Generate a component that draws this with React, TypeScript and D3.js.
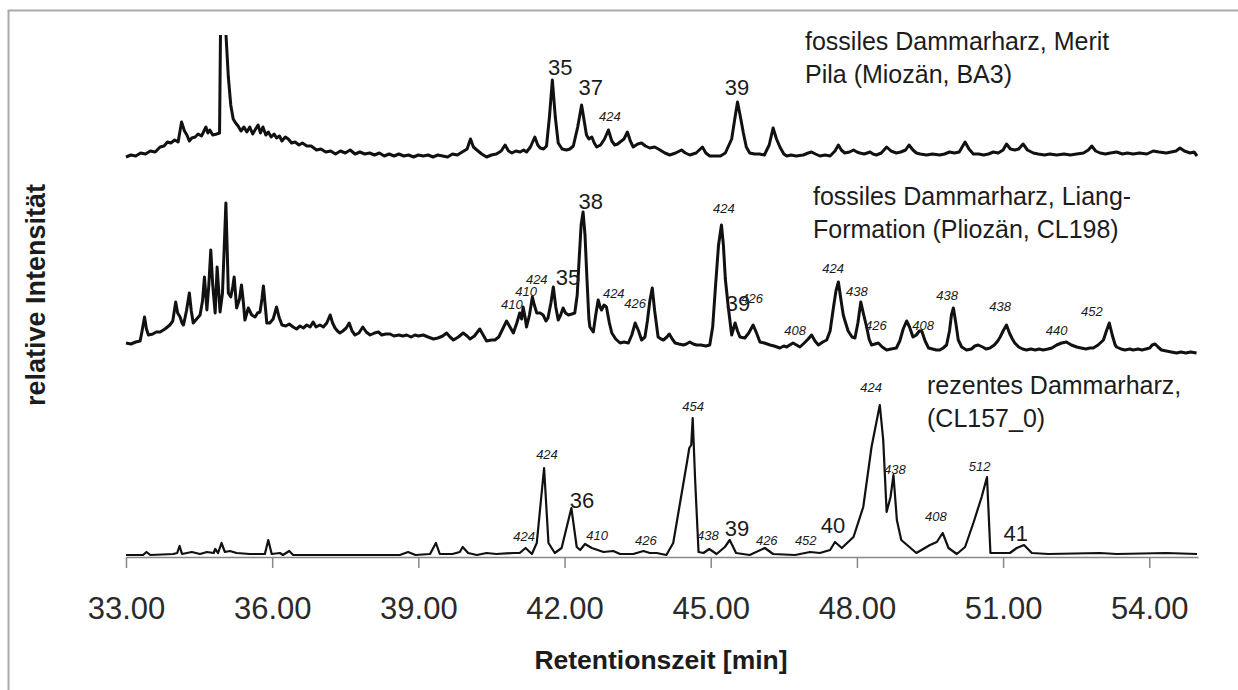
import React, { useEffect, useRef } from 'react';
import * as d3 from 'd3';

type Pt = [number, number];
type Lbl = [number, number, string, boolean];

const xTicks = [33, 36, 39, 42, 45, 48, 51, 54];

// fossiles Dammarharz, Merit Pila (Miozän, BA3) - [Retentionszeit, Intensität]
const meritPila: Pt[] = [
  [33.0, 0], [33.1, 1], [33.2, 0.5], [33.3, 2], [33.4, 1.5], [33.5, 3], [33.6, 2.5], [33.7, 5], [33.78, 5.5],
  [33.85, 7.5], [33.92, 7], [34.0, 8.5], [34.07, 7.5], [34.14, 17.5], [34.2, 13], [34.25, 11], [34.3, 8],
  [34.35, 9.5], [34.42, 10], [34.48, 11.5], [34.55, 10.5], [34.6, 13], [34.64, 15], [34.68, 12], [34.72, 13.5],
  [34.78, 11], [34.86, 11.5], [34.92, 12], [34.95, 90], [35.0, 200], [35.05, 62], [35.1, 40], [35.15, 26],
  [35.2, 19], [35.25, 17], [35.3, 15.5], [35.36, 13], [35.42, 15], [35.48, 12.5], [35.54, 15], [35.6, 11.5],
  [35.66, 14], [35.71, 16], [35.76, 12], [35.81, 15], [35.87, 11], [35.92, 12.5], [35.98, 10], [36.04, 11.5],
  [36.09, 9.5], [36.15, 10.5], [36.2, 8], [36.27, 10], [36.33, 9], [36.4, 7], [36.47, 7.5], [36.55, 6],
  [36.62, 7], [36.71, 5.5], [36.8, 5.5], [36.91, 3.5], [37.0, 4], [37.1, 2.5], [37.2, 3], [37.3, 1.5],
  [37.4, 3], [37.5, 2], [37.6, 3.5], [37.7, 1.5], [37.8, 2.5], [37.9, 1.5], [38.0, 2], [38.1, 1], [38.2, 2],
  [38.3, 0.5], [38.4, 1.5], [38.5, 0.5], [38.6, 1.5], [38.7, 0.5], [38.8, 1], [38.9, 0], [39.0, 1], [39.1, 0.5],
  [39.2, 1], [39.3, 0], [39.4, 1], [39.5, 0.5], [39.6, 0], [39.7, 1.5], [39.8, 1], [39.9, 2.5], [40.0, 4],
  [40.07, 9], [40.13, 5], [40.2, 3.5], [40.3, 1.5], [40.4, 0], [40.5, 1], [40.6, 1.5], [40.7, 3], [40.78, 6],
  [40.85, 3], [40.92, 2], [41.0, 3], [41.09, 2.5], [41.16, 3.5], [41.22, 2.5], [41.3, 5], [41.39, 10],
  [41.45, 6], [41.5, 4.5], [41.57, 4], [41.63, 5.5], [41.69, 20], [41.75, 38.5], [41.81, 20], [41.87, 7],
  [41.95, 4], [42.04, 3.5], [42.11, 4], [42.18, 5.5], [42.27, 15], [42.35, 26], [42.41, 17], [42.45, 11],
  [42.5, 9], [42.56, 10], [42.61, 7], [42.66, 5], [42.74, 6], [42.82, 9], [42.9, 13.5], [42.97, 8],
  [43.03, 6], [43.09, 6.5], [43.14, 7.5], [43.22, 9], [43.29, 12.5], [43.35, 8], [43.41, 5], [43.5, 6.5],
  [43.58, 7], [43.66, 5.5], [43.75, 4.5], [43.85, 5], [43.96, 3.5], [44.06, 2], [44.16, 1], [44.28, 2],
  [44.4, 3.5], [44.48, 2], [44.57, 1], [44.7, 2], [44.83, 5], [44.9, 2], [44.98, 0.5], [45.1, 0.5],
  [45.2, 0.5], [45.3, 2], [45.43, 9], [45.5, 20], [45.55, 27.5], [45.61, 20], [45.67, 12], [45.73, 5],
  [45.8, 2], [45.9, 1.5], [46.0, 1.5], [46.1, 1], [46.2, 6], [46.28, 14.5], [46.35, 9], [46.42, 5],
  [46.5, 1.5], [46.56, 0.5], [46.65, 1], [46.75, 0.5], [46.9, 1], [47.0, 2], [47.07, 2.5], [47.15, 1.5],
  [47.24, 0.5], [47.35, 1], [47.45, 0.5], [47.55, 3], [47.62, 6], [47.68, 3.5], [47.75, 2], [47.85, 2.5],
  [47.93, 3.5], [48.0, 2.5], [48.06, 2], [48.15, 1.5], [48.27, 2.5], [48.33, 1.5], [48.4, 1], [48.5, 2],
  [48.61, 5], [48.7, 3], [48.81, 2], [48.9, 2.5], [49.0, 3.5], [49.07, 6], [49.15, 3.5], [49.22, 2],
  [49.3, 1.5], [49.43, 1], [49.55, 1.5], [49.7, 1], [49.8, 1.5], [49.9, 2.5], [50.0, 2], [50.1, 2.5],
  [50.22, 7.5], [50.3, 4], [50.39, 1.5], [50.5, 1.5], [50.6, 1], [50.7, 1.5], [50.8, 2.5], [50.9, 2],
  [51.0, 3.5], [51.07, 6.5], [51.15, 4], [51.24, 3.5], [51.32, 4], [51.41, 6.5], [51.5, 3.5], [51.62, 2],
  [51.72, 1.5], [51.85, 1], [51.96, 1.5], [52.1, 1], [52.25, 1.5], [52.38, 1], [52.51, 1.5], [52.65, 2],
  [52.75, 3.5], [52.82, 5.5], [52.9, 3], [52.99, 2], [53.1, 1.5], [53.2, 2], [53.33, 2.5], [53.45, 1.5],
  [53.55, 2], [53.67, 1.5], [53.8, 2], [53.95, 1.5], [54.08, 3], [54.2, 2.5], [54.35, 2], [54.45, 2.5],
  [54.55, 3], [54.63, 4.5], [54.72, 3], [54.84, 2], [54.92, 2.5], [54.98, 0.5],
];

// fossiles Dammarharz, Liang-Formation (Pliozän, CL198)
const liang: Pt[] = [
  [33.0, 6], [33.1, 5.5], [33.2, 6.5], [33.29, 7], [33.33, 12], [33.38, 19], [33.42, 13], [33.46, 10],
  [33.55, 10.5], [33.62, 11.5], [33.7, 11.5], [33.8, 13], [33.9, 15], [33.96, 17], [34.02, 26.5], [34.06, 21],
  [34.11, 19], [34.15, 16], [34.18, 15], [34.24, 22], [34.3, 31], [34.34, 22], [34.38, 16], [34.45, 18],
  [34.52, 20], [34.57, 27], [34.61, 39], [34.66, 22.5], [34.7, 35], [34.74, 52.5], [34.78, 35], [34.83, 21],
  [34.87, 44], [34.9, 33], [34.93, 21.5], [34.98, 31], [35.01, 50], [35.05, 76], [35.08, 50], [35.1, 31],
  [35.15, 29], [35.19, 34], [35.22, 39], [35.27, 23.5], [35.33, 28], [35.37, 35], [35.41, 26], [35.44, 17.5],
  [35.51, 23.5], [35.58, 20], [35.65, 19], [35.7, 21], [35.75, 21.5], [35.79, 28], [35.82, 34.5], [35.86, 24],
  [35.89, 16], [35.95, 16], [36.02, 18], [36.09, 24], [36.14, 19], [36.2, 15], [36.28, 14.5], [36.35, 15.5],
  [36.43, 14], [36.5, 13], [36.57, 14.5], [36.64, 13.5], [36.71, 15], [36.78, 14], [36.84, 16.5], [36.9, 14],
  [36.98, 15], [37.05, 14], [37.12, 16], [37.19, 20], [37.24, 16], [37.29, 13.5], [37.34, 12], [37.39, 11],
  [37.45, 12], [37.52, 13.5], [37.58, 16], [37.64, 12], [37.7, 10], [37.78, 11], [37.86, 14], [37.93, 11.5],
  [38.01, 10], [38.1, 11], [38.18, 11.5], [38.25, 10], [38.33, 10.5], [38.42, 10.5], [38.5, 9.5], [38.6, 10],
  [38.68, 9.5], [38.76, 10], [38.85, 9], [38.93, 10], [39.0, 9.5], [39.1, 10], [39.2, 9], [39.31, 8],
  [39.4, 8.5], [39.5, 9.5], [39.58, 11], [39.65, 9], [39.72, 7.5], [39.82, 9], [39.92, 11], [40.0, 9.5],
  [40.06, 8], [40.15, 9.5], [40.26, 13], [40.33, 10], [40.4, 7], [40.5, 7.5], [40.57, 7.5], [40.65, 9],
  [40.73, 13], [40.81, 17], [40.88, 14], [40.95, 11], [41.02, 16], [41.08, 21], [41.12, 18], [41.15, 24],
  [41.19, 19], [41.22, 14], [41.28, 20], [41.34, 29], [41.38, 25], [41.43, 21], [41.5, 21], [41.56, 20],
  [41.62, 17], [41.66, 18.5], [41.72, 26], [41.77, 34], [41.82, 24], [41.87, 17.5], [41.92, 20], [41.97, 23.5],
  [42.02, 21], [42.08, 20], [42.15, 20.5], [42.21, 21], [42.26, 30], [42.3, 48], [42.34, 65], [42.38, 71.5],
  [42.42, 60], [42.46, 38], [42.5, 18], [42.52, 14], [42.59, 11.5], [42.64, 20], [42.69, 27.5], [42.73, 24],
  [42.76, 22.5], [42.81, 25], [42.86, 24], [42.92, 16], [42.97, 11], [43.05, 8], [43.14, 6], [43.22, 6.5],
  [43.31, 6], [43.38, 10], [43.45, 16], [43.52, 12], [43.58, 7.5], [43.65, 9], [43.7, 17], [43.75, 27],
  [43.8, 33.5], [43.85, 22], [43.92, 9], [43.98, 8], [44.03, 7.5], [44.1, 9], [44.15, 10.5], [44.21, 8],
  [44.27, 6], [44.35, 5.5], [44.44, 5], [44.5, 5.5], [44.57, 6.5], [44.64, 5.5], [44.71, 5], [44.8, 5],
  [44.9, 4.5], [44.98, 5], [45.04, 14], [45.1, 35], [45.16, 55], [45.22, 65], [45.26, 55], [45.3, 38],
  [45.36, 24], [45.43, 10], [45.5, 16], [45.55, 12], [45.6, 9], [45.7, 8.5], [45.78, 11], [45.87, 15],
  [45.94, 11], [46.01, 6.5], [46.1, 6], [46.22, 5], [46.3, 4.5], [46.42, 3.5], [46.5, 4.5], [46.56, 4],
  [46.62, 5], [46.69, 6], [46.76, 5], [46.83, 4], [46.92, 6], [47.0, 8], [47.07, 10], [47.14, 7],
  [47.21, 5], [47.3, 6.5], [47.38, 7.5], [47.45, 12], [47.52, 24], [47.57, 32], [47.62, 36.5], [47.67, 28],
  [47.72, 20], [47.75, 17.5], [47.82, 12], [47.9, 9], [47.96, 8.5], [48.02, 16], [48.08, 26.5], [48.14, 20],
  [48.2, 14], [48.25, 8], [48.3, 5], [48.37, 5.5], [48.44, 6], [48.52, 4], [48.61, 2.5], [48.7, 3],
  [48.81, 3.5], [48.88, 7], [48.95, 13], [49.02, 17], [49.08, 14], [49.15, 9], [49.22, 10], [49.28, 12],
  [49.33, 12], [49.4, 7], [49.47, 3.5], [49.55, 3], [49.63, 2.5], [49.7, 2.5], [49.77, 3.5], [49.84, 5],
  [49.9, 12], [49.94, 20], [49.98, 23.5], [50.03, 16], [50.08, 7.5], [50.15, 4], [50.25, 2.5], [50.35, 3],
  [50.42, 4.5], [50.49, 5], [50.58, 4], [50.65, 3], [50.73, 3.5], [50.82, 5], [50.89, 7], [50.94, 9],
  [51.0, 12], [51.07, 15], [51.13, 11], [51.19, 8], [51.24, 6], [51.32, 4], [51.4, 3], [51.48, 2.5],
  [51.57, 3], [51.66, 2.5], [51.74, 3], [51.82, 2.5], [51.92, 3], [52.0, 3.5], [52.1, 5], [52.2, 6],
  [52.3, 6.5], [52.4, 5], [52.51, 4], [52.6, 3.5], [52.7, 3], [52.78, 3.5], [52.85, 3.5], [52.95, 5],
  [53.06, 7.5], [53.12, 12], [53.18, 16], [53.24, 10], [53.3, 5], [53.33, 4], [53.42, 3], [53.5, 2.5],
  [53.6, 3], [53.67, 2.5], [53.77, 3], [53.85, 2.5], [53.93, 3], [54.01, 3.5], [54.06, 5], [54.12, 5.5],
  [54.18, 4], [54.25, 2.5], [54.35, 2], [54.45, 1.5], [54.56, 1], [54.65, 1.5], [54.75, 1], [54.85, 1.5],
  [54.97, 1],
];

// rezentes Dammarharz (CL157_0)
const rezent: Pt[] = [
  [33.0, 0], [33.35, 0], [33.42, 1.5], [33.5, 0], [33.97, 0.5], [34.05, 1], [34.1, 4.5], [34.15, 0.5],
  [34.35, 1.5], [34.52, 0.5], [34.66, 1.5], [34.8, 1], [34.83, 3], [34.89, 1], [34.96, 6], [35.03, 1.5],
  [35.13, 2], [35.27, 1], [35.54, 0.5], [35.85, 0.5], [35.92, 7.5], [35.99, 0.5], [36.16, 1], [36.22, 0],
  [36.35, 2], [36.43, 0], [38.62, 0], [38.79, 1.5], [38.94, 0], [39.24, 0.5], [39.36, 6], [39.44, 0.5],
  [39.7, 0.5], [39.85, 1.5], [39.91, 4], [40.02, 1], [40.2, 0], [40.4, 1], [40.6, 0.5], [40.95, 1],
  [41.08, 1], [41.2, 3.5], [41.33, 0.5], [41.43, 6], [41.58, 43.5], [41.67, 6], [41.8, 1], [41.94, 3.5],
  [42.14, 23.5], [42.25, 4], [42.32, 2.5], [42.42, 5.5], [42.56, 3.5], [42.8, 1.5], [43.0, 2], [43.14, 0.5],
  [43.41, 0.5], [43.62, 2], [43.75, 1], [43.89, 1], [44.09, 0], [44.23, 6], [44.37, 26], [44.51, 46],
  [44.56, 53.5], [44.6, 55], [44.63, 68.5], [44.68, 37.5], [44.75, 1.5], [44.85, 1], [44.97, 3], [45.12, 0.5],
  [45.29, 4], [45.39, 7.5], [45.52, 1], [45.8, 0], [46.11, 3.5], [46.28, 0.5], [46.73, 0], [47.04, 1.5],
  [47.24, 1], [47.45, 2.5], [47.55, 6.5], [47.69, 3.5], [47.93, 9], [48.13, 24], [48.3, 54], [48.47, 75],
  [48.54, 57.5], [48.61, 21.5], [48.69, 29], [48.75, 40], [48.82, 17.5], [48.91, 7.5], [49.22, 1], [49.5, 5],
  [49.64, 6.5], [49.76, 11], [49.88, 3.5], [50.05, 0.5], [50.22, 4], [50.39, 16], [50.56, 29], [50.67, 39],
  [50.74, 1], [51.14, 1], [51.28, 3.5], [51.43, 5], [51.59, 1], [51.93, 0.5], [52.99, 1], [53.33, 0.5],
  [54.35, 1], [54.98, 0.5],
];

// peak labels: [time, intensity above trace, text, compound number?]
const meritLabels: Lbl[] = [
  [41.91, 41, '35', true], [42.54, 31, '37', true], [42.93, 18, '424', false], [45.54, 31, '39', true],
];
const liangLabels: Lbl[] = [
  [40.92, 23, '410', false], [41.21, 29.5, '410', false], [41.43, 35.5, '424', false], [42.07, 35, '35', true],
  [42.54, 73, '38', true], [43.01, 28.5, '424', false], [43.45, 23.5, '426', false], [45.27, 71, '424', false],
  [45.56, 22, '39', true], [45.85, 26, '426', false], [46.73, 10, '408', false], [47.51, 41, '424', false],
  [48.0, 29.5, '438', false], [48.39, 12.5, '426', false], [49.36, 12.5, '408', false], [49.85, 27.5, '438', false],
  [50.94, 22, '438', false], [52.1, 10, '440', false], [52.82, 19.5, '452', false],
];
const rezentLabels: Lbl[] = [
  [41.17, 7, '424', false], [41.64, 48, '424', false], [42.36, 23.5, '36', true], [42.67, 7.5, '410', false],
  [43.67, 5, '426', false], [44.64, 72, '454', false], [44.94, 7.5, '438', false], [45.54, 9.5, '39', true],
  [46.15, 5, '426', false], [46.95, 5, '452', false], [47.51, 11, '40', true], [48.29, 81.5, '424', false],
  [48.78, 40.5, '438', false], [49.62, 17, '408', false], [50.52, 42, '512', false], [51.26, 7, '41', true],
];

const traceNames = [
  ['fossiles Dammarharz, Merit', 'Pila (Miozän, BA3)'],
  ['fossiles Dammarharz, Liang-', 'Formation (Pliozän, CL198)'],
  ['rezentes Dammarharz,', '(CL157_0)'],
];
const traceOffsets = [200, 101, 1];

const App = () => {
  const svgRef = useRef<SVGSVGElement>(null);

  useEffect(() => {
    const svg = d3.select(svgRef.current);
    svg.selectAll('*').remove();

    const width = 1238;
    const height = 690;
    const font = '"Liberation Sans", Arial, Helvetica, sans-serif';
    const ink = '#1c1c1c';

    const x = d3.scaleLinear().domain([33, 55]).range([126, 1198]);
    const y = d3.scaleLinear().domain([0, 261]).range([557, 35]);

    svg.append('rect').attr('width', width).attr('height', height).attr('fill', '#fff');

    // scanned frame (top + left edge)
    svg.append('path')
      .attr('d', 'M8.5,690V10.5H1238')
      .attr('fill', 'none')
      .attr('stroke', '#aaa')
      .attr('stroke-width', 2);

    svg.append('clipPath').attr('id', 'plotClip')
      .append('rect').attr('x', 0).attr('y', 35).attr('width', width).attr('height', height - 35);

    // x axis
    const axis = svg.append('g')
      .attr('transform', 'translate(0,557)')
      .call(
        d3.axisBottom(x)
          .tickValues(xTicks)
          .tickFormat(d3.format('.2f'))
          .tickSize(11)
          .tickSizeOuter(0)
          .tickPadding(29)
      );
    axis.select('.domain').attr('stroke', '#888').attr('stroke-width', 1.5);
    axis.selectAll('.tick line').attr('stroke', '#888').attr('stroke-width', 1.5);
    axis.selectAll('.tick text')
      .attr('fill', '#2a2a2a')
      .attr('font-family', font)
      .attr('font-size', 31);

    const traces = [meritPila, liang, rezent];
    const labels = [meritLabels, liangLabels, rezentLabels];
    const titlePos = [[805, 50], [813, 205], [927, 394]];

    traces.forEach((data, i) => {
      const off = traceOffsets[i];
      const line = d3.line<Pt>()
        .x((d) => x(d[0]))
        .y((d) => y(d[1] + off));

      svg.append('path')
        .datum(data)
        .attr('d', line)
        .attr('fill', 'none')
        .attr('stroke', '#111')
        .attr('stroke-width', i === 2 ? 2.2 : 3)
        .attr('stroke-linejoin', 'round')
        .attr('clip-path', 'url(#plotClip)');

      svg.append('g')
        .selectAll('text')
        .data(labels[i])
        .join('text')
        .attr('x', (d) => x(d[0]))
        .attr('y', (d) => y(d[1] + off))
        .attr('text-anchor', 'middle')
        .attr('font-family', font)
        .attr('font-size', (d) => (d[3] ? 22 : 13))
        .attr('font-style', (d) => (d[3] ? 'normal' : 'italic'))
        .attr('fill', ink)
        .text((d) => d[2]);

      const t = svg.append('text')
        .attr('x', titlePos[i][0])
        .attr('y', titlePos[i][1])
        .attr('font-family', font)
        .attr('font-size', 25)
        .attr('fill', ink);
      traceNames[i].forEach((s, k) => {
        t.append('tspan').attr('x', titlePos[i][0]).attr('dy', k === 0 ? 0 : 33).text(s);
      });
    });

    // axis titles
    svg.append('text')
      .attr('x', 661)
      .attr('y', 669)
      .attr('text-anchor', 'middle')
      .attr('font-family', font)
      .attr('font-weight', 'bold')
      .attr('font-size', 26.5)
      .attr('fill', ink)
      .text('Retentionszeit [min]');

    svg.append('text')
      .attr('transform', 'translate(45,295) rotate(-90)')
      .attr('text-anchor', 'middle')
      .attr('font-family', font)
      .attr('font-weight', 'bold')
      .attr('font-size', 27)
      .attr('fill', ink)
      .text('relative Intensität');
  }, []);

  return (
    <svg
      ref={svgRef}
      width={1238}
      height={690}
      style={{ position: 'absolute', left: 0, top: 0 }}
    />
  );
};

export default App;
